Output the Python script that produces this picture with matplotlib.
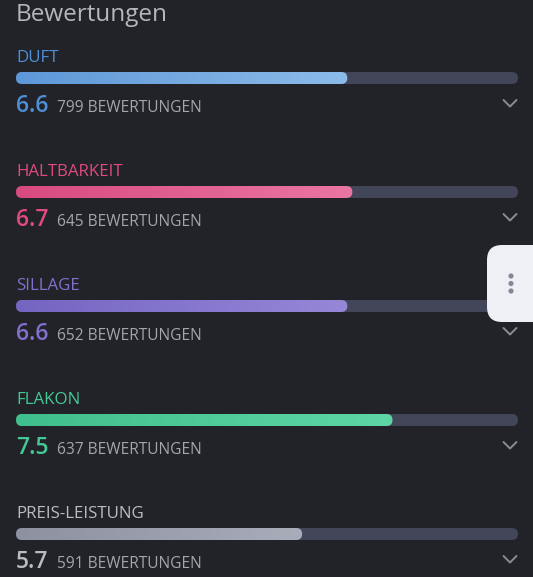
import matplotlib
matplotlib.use("Agg")
import matplotlib.pyplot as plt
import numpy as np
from matplotlib.patches import FancyBboxPatch
from matplotlib.colors import LinearSegmentedColormap

# ---- data ----
title = "Bewertungen"
categories = ["DUFT", "HALTBARKEIT", "SILLAGE", "FLAKON", "PREIS-LEISTUNG"]
scores = [6.6, 6.7, 6.6, 7.5, 5.7]
counts = [799, 645, 652, 637, 591]
count_label = "BEWERTUNGEN"
max_score = 10

# ---- style ----
bg = "#212328"
track_col = "#434658"
label_cols = ["#4f8fd6", "#e04a80", "#8270cc", "#44c995", "#b8bcc5"]
grad_cols = [("#5e98d8", "#8cbbe9"), ("#d84a80", "#ea76a4"),
             ("#7565c2", "#9687d8"), ("#3fbf8c", "#5ed6a6"),
             ("#8d91a0", "#a9adba")]
count_col = "#a3a6ad"
title_col = "#b4b7bd"
chev_col = "#8a8d94"

W, H = 533, 577
fig = plt.figure(figsize=(W / 100, H / 100), dpi=100, facecolor=bg)
ax = fig.add_axes([0, 0, 1, 1])
ax.set_facecolor(bg)
left_px, right_px = 16, 518
ppu = (right_px - left_px) / max_score
ax.set_xlim(-left_px / ppu, (W - left_px) / ppu)
ax.set_ylim(H, 0)
ax.axis("off")

fam = ["Open Sans", "DejaVu Sans"]
ax.text(0, 15, title, color=title_col, fontsize=17.5,
        family=fam, va="center", ha="left")

bar_h = 12
r_x = (bar_h / 2) / ppu
row0, step = 78, 114


def rounded(x0, x1, yc, **kw):
    p = FancyBboxPatch((x0, yc - bar_h / 2), x1 - x0, bar_h,
                       boxstyle=f"round,pad=0,rounding_size={r_x}",
                       mutation_aspect=ppu, **kw)
    ax.add_patch(p)
    return p


for i, (cat, s, n) in enumerate(zip(categories, scores, counts)):
    yc = row0 + step * i
    ax.text(0, yc - 19.5, cat, color=label_cols[i], fontsize=12.2, family=fam,
            va="center", ha="left")
    rounded(0, max_score, yc, facecolor=track_col, edgecolor="none", zorder=1)
    clip = rounded(0, s, yc, facecolor="none", edgecolor="none", zorder=2)
    cmap = LinearSegmentedColormap.from_list("g", list(grad_cols[i]))
    grad = np.linspace(0, 1, 256).reshape(1, -1)
    im = ax.imshow(grad, cmap=cmap, extent=[0, s, yc + bar_h / 2, yc - bar_h / 2],
                   aspect="auto", zorder=2, interpolation="bilinear")
    im.set_clip_path(clip)
    ax.text(0, yc + 28, f"{s:.1f}", color=label_cols[i], fontsize=16.5,
            family=fam, fontweight="semibold", va="center", ha="left")
    ax.text(41 / ppu, yc + 30, f"{n} {count_label}", color=count_col,
            fontsize=11.2, family=fam, va="center", ha="left")
    # chevron
    cx = (510 - left_px) / ppu
    ax.plot([cx - 6.5 / ppu, cx, cx + 6.5 / ppu], [yc + 22, yc + 28.5, yc + 22],
            color=chev_col, lw=1.4, solid_capstyle="round",
            solid_joinstyle="round", zorder=3)

# side floating panel
panel = FancyBboxPatch(((487 - left_px) / ppu, 245), 80 / ppu, 77,
                       boxstyle=f"round,pad=0,rounding_size={15 / ppu}",
                       mutation_aspect=ppu, facecolor="#eef0f5",
                       edgecolor="none", zorder=5)
ax.add_patch(panel)
ax.scatter([(511 - left_px) / ppu] * 3, [276, 283.5, 291], s=14,
           color="#85889a", zorder=6, edgecolors="none")

fig.savefig("out.png", dpi=100, facecolor=bg)
